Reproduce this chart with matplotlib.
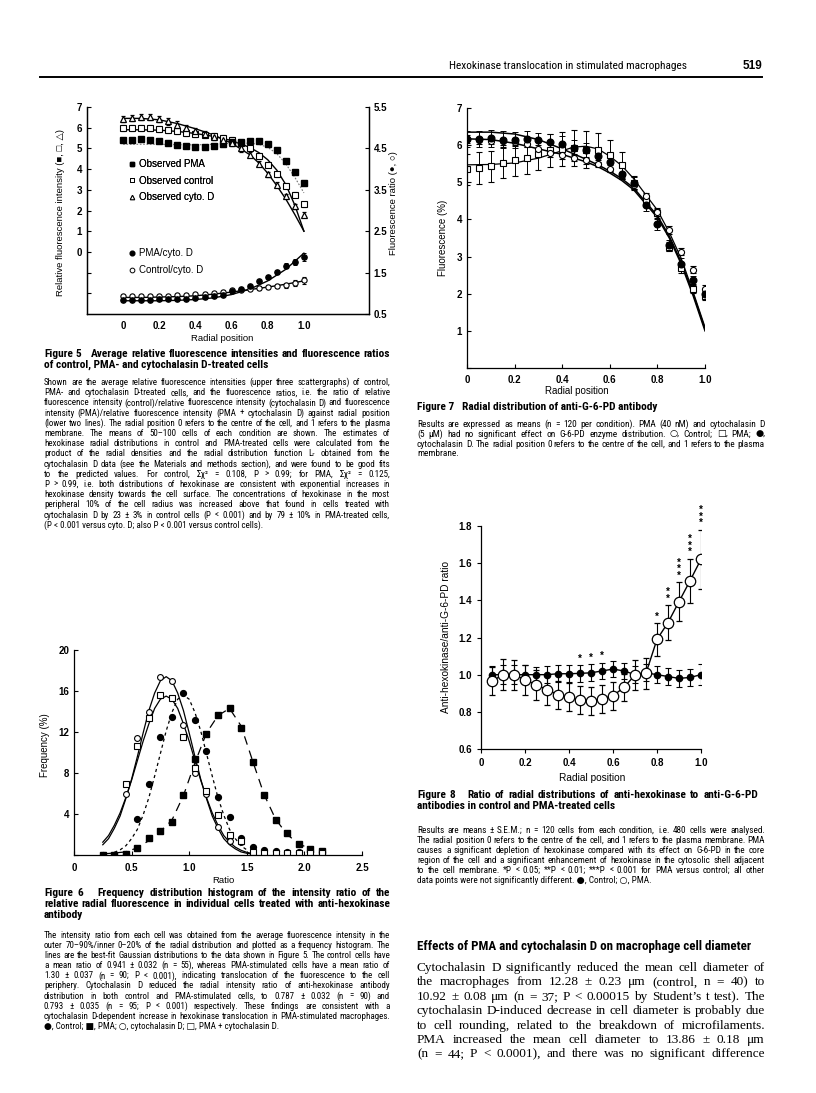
import matplotlib
matplotlib.use('Agg')
import matplotlib.pyplot as plt
from matplotlib.font_manager import FontProperties, fontManager
from matplotlib.lines import Line2D

# ---------------- data ----------------
# Figure 5 (radial position vs relative fluorescence / ratio)
r5 = [0, 0.05, 0.1, 0.15, 0.2, 0.25, 0.3, 0.35, 0.4, 0.45, 0.5,
      0.55, 0.6, 0.65, 0.7, 0.75, 0.8, 0.85, 0.9, 0.95, 1.0]
pma5 = [5.42, 5.42, 5.45, 5.40, 5.35, 5.25, 5.15, 5.10, 5.05, 5.05, 5.10,
        5.20, 5.30, 5.30, 5.35, 5.35, 5.20, 4.90, 4.40, 3.85, 3.35]
ctrl5 = [5.98, 6.00, 5.98, 6.00, 5.95, 5.90, 5.85, 5.75, 5.70, 5.65, 5.60,
         5.50, 5.40, 5.25, 5.00, 4.65, 4.20, 3.75, 3.20, 2.75, 2.30]
cyto5 = [6.42, 6.45, 6.50, 6.50, 6.42, 6.30, 6.15, 6.00, 5.85, 5.70, 5.55,
         5.40, 5.25, 5.00, 4.70, 4.25, 3.75, 3.25, 2.70, 2.20, 1.80]
err5 = [0.15, 0.15, 0.15, 0.15, 0.15, 0.15, 0.15, 0.15, 0.15, 0.15, 0.15,
        0.15, 0.15, 0.15, 0.13, 0.12, 0.12, 0.12, 0.12, 0.12, 0.12]
fitx5 = [0, 0.1, 0.2, 0.3, 0.4, 0.5, 0.6, 0.7, 0.75, 0.8, 0.85, 0.9, 0.95, 1.0]
cyto_fit5 = [6.45, 6.45, 6.38, 6.20, 5.95, 5.65, 5.25, 4.70, 4.30, 3.80, 3.20, 2.55, 1.80, 1.00]
ctrl_fit5 = [5.90, 5.90, 5.88, 5.82, 5.72, 5.58, 5.38, 5.05, 4.80, 4.45, 3.95, 3.25, 2.25, 1.00]
pma_fit5 = [5.20, 5.20, 5.20, 5.18, 5.17, 5.20, 5.25, 5.25, 5.20, 5.05, 4.75, 4.25, 3.60, 2.85]
pma_cyto5 = [0.85, 0.85, 0.85, 0.85, 0.86, 0.86, 0.87, 0.87, 0.89, 0.90, 0.94,
             0.97, 1.05, 1.10, 1.18, 1.29, 1.40, 1.52, 1.66, 1.76, 1.88]
ctrl_cyto5 = [0.93, 0.93, 0.93, 0.93, 0.94, 0.94, 0.95, 0.96, 0.98, 0.99, 1.01,
              1.04, 1.07, 1.09, 1.11, 1.13, 1.15, 1.17, 1.19, 1.24, 1.31]
ratio_err5 = [0.03] * 15 + [0.04, 0.04, 0.05, 0.06, 0.07, 0.09]
ratio_fitx = [0, 0.1, 0.2, 0.3, 0.4, 0.5, 0.6, 0.7, 0.8, 0.9, 1.0]
pma_cyto_fit = [0.82, 0.82, 0.82, 0.83, 0.85, 0.89, 0.97, 1.10, 1.30, 1.58, 1.97]
ctrl_cyto_fit = [0.90, 0.90, 0.91, 0.92, 0.94, 0.98, 1.03, 1.09, 1.15, 1.22, 1.30]

# Figure 6 (frequency histogram of intensity ratio)
bins6 = [0.25, 0.35, 0.45, 0.55, 0.65, 0.75, 0.85, 0.95, 1.05, 1.15,
         1.25, 1.35, 1.45, 1.55, 1.65, 1.75, 1.85, 1.95, 2.05, 2.15]
ctrl6 = [0, 0, 0.1, 3.5, 6.9, 11.5, 13.5, 15.8, 13.2, 10.1,
         5.7, 3.7, 1.7, 0.8, 0.5, 0.4, 0.3, 0.3, 0.3, 0.3]
pma6 = [0, 0, 0.1, 0.65, 1.7, 2.3, 3.2, 5.9, 9.4, 11.8,
        13.7, 14.3, 12.4, 9.1, 5.9, 3.4, 2.1, 1.1, 0.6, 0.4]
cyto6 = [None, None, 6.0, 11.4, 14.0, 17.4, 17.0, 12.7, 8.0, 6.0,
         2.7, 1.4, 1.3, 0, 0, 0, 0, 0, 0, 0]
pmacyto6 = [None, None, 6.9, 10.6, 13.4, 15.6, 15.3, 11.5, 8.5, 6.2,
            3.9, 2.0, 1.4, 0.3, 0.2, 0.2, 0.2, 0.2, 0.2, 0.2]
gx6 = [0.25, 0.3, 0.35, 0.4, 0.45, 0.5, 0.55, 0.6, 0.65, 0.7, 0.75, 0.8, 0.85,
       0.9, 0.95, 1.0, 1.05, 1.1, 1.15, 1.2, 1.25, 1.3, 1.35, 1.4, 1.45, 1.5, 1.55]
cyto_fit6 = [1.0, 1.6, 2.6, 3.8, 5.5, 7.4, 9.6, 11.9, 14.1, 15.8, 17.0, 17.4, 17.0,
             15.8, 14.1, 11.9, 9.6, 7.4, 5.5, 3.8, 2.6, 1.6, 1.0, 0.6, 0.3, 0.17, 0.09]
pmacyto_fit6 = [1.25, 1.9, 2.9, 4.1, 5.6, 7.3, 9.2, 11.1, 12.8, 14.3, 15.2, 15.5, 15.2,
                14.3, 12.8, 11.1, 9.2, 7.3, 5.6, 4.1, 2.9, 1.9, 1.25, 0.77, 0.46, 0.26, 0.14]
cx6 = [0.35, 0.4, 0.45, 0.5, 0.55, 0.6, 0.65, 0.7, 0.75, 0.8, 0.85, 0.9, 0.95,
       1.0, 1.05, 1.1, 1.15, 1.2, 1.25, 1.3, 1.35, 1.4, 1.45, 1.5]
ctrl_fit6 = [0.26, 0.5, 0.9, 1.6, 2.5, 3.9, 5.6, 7.7, 9.9, 12.1, 13.9, 15.2, 15.6,
             15.2, 13.9, 12.1, 9.9, 7.7, 5.6, 3.9, 2.5, 1.6, 0.9, 0.5]
px6 = [0.25, 0.35, 0.45, 0.55, 0.65, 0.75, 0.85, 0.95, 1.05, 1.15, 1.25,
       1.35, 1.45, 1.55, 1.65, 1.75, 1.85, 1.95, 2.05]
pma_fit6 = [0.1, 0.2, 0.3, 0.7, 1.4, 2.3, 3.4, 5.8, 9.0, 11.9, 13.6,
            14.3, 12.6, 9.2, 5.9, 3.5, 2.0, 1.1, 0.6]

# Figure 7 (anti-G-6-PD radial distribution)
r7 = r5
ctrl7 = [6.17, 6.13, 6.12, 6.10, 6.08, 6.04, 5.90, 5.79, 5.74, 5.66, 5.59,
         5.50, 5.37, 5.19, 4.92, 4.62, 4.20, 3.71, 3.13, 2.65, 2.14]
pma7 = [5.35, 5.39, 5.43, 5.53, 5.59, 5.65, 5.75, 5.86, 5.90, 5.92, 5.88,
        5.88, 5.73, 5.47, 4.98, 4.52, 4.16, 3.26, 2.68, 2.13, 1.95]
cyto7 = [6.17, 6.17, 6.18, 6.15, 6.13, 6.16, 6.13, 6.09, 6.04, 5.93, 5.86,
         5.70, 5.54, 5.23, 4.98, 4.38, 3.87, 3.30, 2.81, 2.36, 2.00]
ctrl7_err = [0.1] * 21
pma7_err = [0.42, 0.43, 0.42, 0.42, 0.42, 0.42, 0.42, 0.45, 0.45, 0.48, 0.5,
            0.45, 0.42, 0.35, 0.2, 0.13, 0.12, 0.12, 0.12, 0.12, 0.12]
cyto7_err = [0.22, 0.22, 0.22, 0.22, 0.22, 0.22, 0.2, 0.2, 0.2, 0.2, 0.2,
             0.15, 0.15, 0.15, 0.15, 0.15, 0.15, 0.15, 0.15, 0.12, 0.15]
fitx7 = [0, 0.1, 0.2, 0.3, 0.4, 0.45, 0.5, 0.55, 0.6, 0.65, 0.7, 0.8, 0.85, 0.9, 0.95, 1.0]
cyto_fit7 = [6.35, 6.35, 6.30, 6.15, 5.90, 5.76, 5.62, 5.47, 5.30, 5.10, 4.85, 4.10, 3.55, 2.85, 2.00, 1.05]
ctrl_fit7 = [6.17, 6.15, 6.05, 5.90, 5.75, 5.65, 5.55, 5.42, 5.25, 5.05, 4.80, 4.05, 3.50, 2.80, 1.95, 1.00]
pma_fit7 = [5.47, 5.48, 5.52, 5.65, 5.85, 5.95, 5.97, 5.90, 5.70, 5.45, 5.10, 4.25, 3.65, 2.95, 2.05, 1.10]

# Figure 8 (ratio anti-hexokinase / anti-G-6-PD)
r8 = [0.05, 0.1, 0.15, 0.2, 0.25, 0.3, 0.35, 0.4, 0.45, 0.5,
      0.55, 0.6, 0.65, 0.7, 0.75, 0.8, 0.85, 0.9, 0.95, 1.0]
ctrl8 = [1.0, 1.0, 1.0, 1.0, 1.0, 1.0, 1.005, 1.005, 1.007, 1.01,
         1.02, 1.03, 1.02, 1.0, 1.01, 1.0, 0.99, 0.98, 0.985, 1.0]
ctrl8_err = [0.045, 0.05, 0.05, 0.05, 0.04, 0.045, 0.045, 0.045, 0.045, 0.045,
             0.045, 0.045, 0.045, 0.045, 0.045, 0.045, 0.045, 0.045, 0.045, 0.055]
pma8 = [0.965, 1.0, 1.0, 0.973, 0.946, 0.919, 0.892, 0.878, 0.865, 0.86,
        0.869, 0.887, 0.931, 0.999, 1.008, 1.19, 1.28, 1.393, 1.505, 1.621]
pma8_err = [0.075, 0.085, 0.08, 0.08, 0.08, 0.08, 0.075, 0.075, 0.075, 0.075,
            0.075, 0.075, 0.075, 0.08, 0.083, 0.088, 0.095, 0.105, 0.12, 0.16]
sig8 = [0, 0, 0, 0, 0, 0, 0, 0, 1, 1, 1, 0, 0, 0, 0, 1, 2, 3, 3, 3]

# ---------------- page setup ----------------
W, H = 816, 1093
fig = plt.figure(figsize=(W / 100, H / 100), dpi=100)
fig.patch.set_facecolor('white')

names = {f.name for f in fontManager.ttflist}
NARROW = next((n for n in ['Liberation Sans Narrow', 'Roboto Condensed', 'Open Sans Condensed']
               if n in names), 'Liberation Sans')
SANS = ['Liberation Sans', 'DejaVu Sans']
CAP = [NARROW, 'DejaVu Sans']
SERIF = ['Liberation Serif', 'DejaVu Serif']
plt.rcParams['font.family'] = SANS
plt.rcParams['axes.linewidth'] = 0.9

renderer = fig.canvas.get_renderer()


def fx(x):
    return x / W


def fy(y):
    return 1 - y / H


def axes_px(l, t, r, b):
    ax = fig.add_axes([l / W, 1 - b / H, (r - l) / W, (b - t) / H])
    ax.px = (l, t, r, b)
    return ax


def ylabel_at(ax, text, x, y, size):
    l, t, r, b = ax.px
    ax.set_ylabel(text, fontsize=size)
    ax.yaxis.set_label_coords((x - l) / (r - l), (b - y) / (b - t))


def xlabel_at(ax, text, x, y, size):
    l, t, r, b = ax.px
    ax.set_xlabel(text, fontsize=size)
    ax.xaxis.set_label_coords((x - l) / (r - l), (b - y) / (b - t))


def tw(s, prop):
    w, h, d = renderer.get_text_width_height_descent(s, prop, ismath=False)
    return w


def block(x, y, lines, width, lh, family, weight='normal', size=None, last=False):
    """Justified text block; y is the baseline of the first line (px)."""
    probe = lines if (last or len(lines) == 1) else lines[:-1]
    if size is None:
        p0 = FontProperties(family=family, weight=weight, size=10)
        size = 10 * width / max(tw(s, p0) for s in probe) * 0.99
    prop = FontProperties(family=family, weight=weight, size=size)
    for i, line in enumerate(lines):
        base = fy(y + i * lh)
        words = line.split(' ')
        if (i == len(lines) - 1 and not last) or len(words) == 1:
            fig.text(fx(x), base, line, fontproperties=prop, va='baseline')
            continue
        ws = [tw(w, prop) if w else 0 for w in words]
        gap = (width - sum(ws)) / (len(words) - 1)
        cx = x
        for w, wd in zip(words, ws):
            if w:
                fig.text(fx(cx), base, w, fontproperties=prop, va='baseline')
            cx += wd + gap
    return size


# ---------------- running head ----------------
block(449, 69, ['Hexokinase translocation in stimulated macrophages'], 241, 10, CAP)
fig.text(fx(743), fy(69), '519', fontfamily=SANS, fontweight='bold', fontsize=8.5, va='baseline')
fig.add_artist(Line2D([fx(40), fx(762)], [fy(77), fy(77)], color='black', lw=1.4,
                      transform=fig.transFigure))

# ---------------- Figure 5 ----------------
ax5 = axes_px(87, 107, 369, 314)
ax5.set_xlim(-0.2, 1.36)
ax5.set_ylim(-3, 7)
kw5 = dict(ls='none', color='black', elinewidth=0.7, capsize=1.5, capthick=0.7, ms=3.8)
ax5.errorbar(r5, ctrl5, yerr=err5, marker='s', mfc='white', mec='black', mew=0.8, **kw5)
ax5.errorbar(r5, pma5, yerr=err5, marker='s', mfc='black', **kw5)
ax5.errorbar(r5, cyto5, yerr=err5, marker='^', mfc='white', mec='black', mew=0.9, **kw5)
ax5.plot(fitx5, cyto_fit5, color='black', lw=1.0)
ax5.plot(fitx5, ctrl_fit5, color='black', lw=1.0)
ax5.plot(fitx5, pma_fit5, color='0.45', lw=0.8, ls=(0, (1.5, 1.5)))
ax5.set_yticks([-2, -1, 0, 1, 2, 3, 4, 5, 6, 7])
ax5.set_yticklabels(['', '', '0', '1', '2', '3', '4', '5', '6', '7'])
ax5.set_xticks([0, 0.2, 0.4, 0.6, 0.8, 1.0])
ax5.set_xticklabels(['0', '0.2', '0.4', '0.6', '0.8', '1.0'])
ax5.tick_params(axis='y', direction='in', length=3, labelsize=7)
ax5.tick_params(axis='x', length=0, pad=5, labelsize=7)
for lab in ax5.get_xticklabels() + ax5.get_yticklabels():
    lab.set_fontweight('bold')
ax5.spines['top'].set_visible(False)
ylabel_at(ax5, 'Relative fluorescence intensity (■, □, △)', 65, 212, 6.8)
xlabel_at(ax5, 'Radial position', 222, 334, 6.8)

ax5r = ax5.twinx()
ax5r.set_ylim(0.5, 5.5)
kwr = dict(ls='none', color='black', elinewidth=0.7, capsize=1.5, capthick=0.7, ms=3.8)
ax5r.errorbar(r5, ctrl_cyto5, yerr=ratio_err5, marker='o', mfc='white', mec='black', mew=0.8, **kwr)
ax5r.errorbar(r5, pma_cyto5, yerr=ratio_err5, marker='o', mfc='black', **kwr)
ax5r.plot(ratio_fitx, pma_cyto_fit, color='black', lw=1.0)
ax5r.plot(ratio_fitx, ctrl_cyto_fit, color='black', lw=1.0)
ax5r.set_yticks([0.5, 1.5, 2.5, 3.5, 4.5, 5.5])
ax5r.set_yticklabels(['0.5', '1.5', '2.5', '3.5', '4.5', '5.5'])
ax5r.tick_params(axis='y', direction='in', length=3, labelsize=7)
for lab in ax5r.get_yticklabels():
    lab.set_fontweight('bold')
ax5r.spines['top'].set_visible(False)
l, t, r, b = ax5.px
ax5r.set_ylabel('Fluorescence ratio (●, ○)', fontsize=6.8)
ax5r.yaxis.set_label_coords((389 - l) / (r - l), (b - 203) / (b - t))

h1 = [Line2D([], [], ls='none', marker='s', ms=3.2, mfc='black', mec='black'),
      Line2D([], [], ls='none', marker='s', ms=3.2, mfc='white', mec='black', mew=0.7),
      Line2D([], [], ls='none', marker='^', ms=3.2, mfc='white', mec='black', mew=0.7)]
leg1 = ax5.legend(h1, ['Observed PMA', 'Observed control', 'Observed cyto. D'],
                  loc='upper left', bbox_to_anchor=(fx(129), fy(159)), bbox_transform=fig.transFigure,
                  frameon=False, fontsize=7, handlelength=0.6, handletextpad=0.45,
                  labelspacing=0.68, borderpad=0, borderaxespad=0)
ax5.add_artist(leg1)
h2 = [Line2D([], [], ls='none', marker='o', ms=3.4, mfc='black', mec='black'),
      Line2D([], [], ls='none', marker='o', ms=3.4, mfc='white', mec='black', mew=0.7)]
ax5r.legend(h2, ['PMA/cyto. D', 'Control/cyto. D'],
            loc='upper left', bbox_to_anchor=(fx(129), fy(248)), bbox_transform=fig.transFigure,
            frameon=False, fontsize=7, handlelength=0.6, handletextpad=0.45,
            labelspacing=0.72, borderpad=0, borderaxespad=0)

head5 = block(44, 357, ['Figure 5   Average relative fluorescence intensities and fluorescence ratios',
                        'of control, PMA- and cytochalasin D-treated cells'], 346, 10.6, CAP, 'bold')
block(44, 385, [
    'Shown are the average relative fluorescence intensities (upper three scattergraphs) of control,',
    'PMA- and cytochalasin D-treated cells, and the fluorescence ratios, i.e. the ratio of relative',
    'fluorescence intensity (control)/relative fluorescence intensity (cytochalasin D) and fluorescence',
    'intensity (PMA)/relative fluorescence intensity (PMA + cytochalasin D) against radial position',
    '(lower two lines). The radial position 0 refers to the centre of the cell, and 1 refers to the plasma',
    'membrane. The means of 50–100 cells of each condition are shown. The estimates of',
    'hexokinase radial distributions in control and PMA-treated cells were calculated from the',
    'product of the radial densities and the radial distribution function Lᵣ obtained from the',
    'cytochalasin D data (see the Materials and methods section), and were found to be good fits',
    'to the predicted values. For control, Σχ² = 0.108, P > 0.99; for PMA, Σχ² = 0.125,',
    'P > 0.99, i.e. both distributions of hexokinase are consistent with exponential increases in',
    'hexokinase density towards the cell surface. The concentrations of hexokinase in the most',
    'peripheral 10% of the cell radius was increased above that found in cells treated with',
    'cytochalasin D by 23 ± 3% in control cells (P < 0.001) and by 79 ± 10% in PMA-treated cells,',
    '(P < 0.001 versus cyto. D; also P < 0.001 versus control cells).'], 346, 10.2, CAP)

# ---------------- Figure 6 ----------------
ax6 = axes_px(74, 650, 362, 855)
ax6.set_xlim(0, 2.5)
ax6.set_ylim(0, 20)
ax6.plot(gx6, cyto_fit6, color='black', lw=0.9)
ax6.plot(gx6, pmacyto_fit6, color='black', lw=0.9)
ax6.plot(cx6, ctrl_fit6, color='black', lw=0.9, ls=(0, (2.5, 2.5)))
ax6.plot(px6, pma_fit6, color='black', lw=0.9, ls=(0, (7, 5)))
ax6.plot(bins6, ctrl6, ls='none', marker='o', ms=4.2, mfc='black', mec='black')
ax6.plot(bins6, pma6, ls='none', marker='s', ms=3.8, mfc='black', mec='black')
ax6.plot(bins6, cyto6, ls='none', marker='o', ms=4.2, mfc='white', mec='black', mew=0.8)
ax6.plot(bins6, pmacyto6, ls='none', marker='s', ms=3.8, mfc='white', mec='black', mew=0.8)
ax6.set_xticks([0, 0.5, 1.0, 1.5, 2.0, 2.5])
ax6.set_xticklabels(['0', '0.5', '1.0', '1.5', '2.0', '2.5'])
ax6.set_yticks([0, 4, 8, 12, 16, 20])
ax6.set_yticklabels(['', '4', '8', '12', '16', '20'])
ax6.tick_params(direction='in', length=3, labelsize=7)
ax6.tick_params(axis='x', pad=6)
for lab in ax6.get_xticklabels() + ax6.get_yticklabels():
    lab.set_fontweight('bold')
for s in ['top', 'right']:
    ax6.spines[s].set_visible(False)
ylabel_at(ax6, 'Frequency (%)', 50, 745, 7)
xlabel_at(ax6, 'Ratio', 223, 876, 6.8)

block(44, 896, ['Figure 6   Frequency distribution histogram of the intensity ratio of the',
                'relative radial fluorescence in individual cells treated with anti-hexokinase',
                'antibody'], 346, 10.8, CAP, 'bold', size=head5)
block(44, 938, [
    'The intensity ratio from each cell was obtained from the average fluorescence intensity in the',
    'outer 70–90%/inner 0–20% of the radial distribution and plotted as a frequency histogram. The',
    'lines are the best-fit Gaussian distributions to the data shown in Figure 5. The control cells have',
    'a mean ratio of 0.941 ± 0.032 (n = 55), whereas PMA-stimulated cells have a mean ratio of',
    '1.30 ± 0.037 (n = 90; P < 0.001), indicating translocation of the fluorescence to the cell',
    'periphery. Cytochalasin D reduced the radial intensity ratio of anti-hexokinase antibody',
    'distribution in both control and PMA-stimulated cells, to 0.787 ± 0.032 (n = 90) and',
    '0.793 ± 0.035 (n = 95; P < 0.001) respectively. These findings are consistent with a',
    'cytochalasin D-dependent increase in hexokinase translocation in PMA-stimulated macrophages.',
    '●, Control; ■, PMA; ○, cytochalasin D; □, PMA + cytochalasin D.'], 346, 10.1, CAP)

# ---------------- Figure 7 ----------------
ax7 = axes_px(467, 108, 705, 368)
ax7.set_xlim(0, 1.0)
ax7.set_ylim(0, 7)
kw7 = dict(ls='none', color='black', elinewidth=0.7, capsize=2, capthick=0.7)
ax7.plot(fitx7, cyto_fit7, color='black', lw=1.1)
ax7.plot(fitx7, ctrl_fit7, color='black', lw=1.1)
ax7.plot(fitx7, pma_fit7, color='black', lw=0.9)
ax7.errorbar(r7, pma7, yerr=pma7_err, marker='s', ms=4.2, mfc='white', mec='black', mew=0.8, **kw7)
ax7.errorbar(r7, ctrl7, yerr=ctrl7_err, marker='o', ms=4.4, mfc='white', mec='black', mew=0.8, **kw7)
ax7.errorbar(r7, cyto7, yerr=cyto7_err, marker='o', ms=4.8, mfc='black', mec='black', **kw7)
ax7.set_xticks([0, 0.2, 0.4, 0.6, 0.8, 1.0])
ax7.set_xticklabels(['0', '0.2', '0.4', '0.6', '0.8', '1.0'])
ax7.set_yticks([0, 1, 2, 3, 4, 5, 6, 7])
ax7.set_yticklabels(['', '1', '2', '3', '4', '5', '6', '7'])
ax7.tick_params(direction='in', length=3, labelsize=7)
ax7.tick_params(axis='x', pad=5)
for lab in ax7.get_xticklabels() + ax7.get_yticklabels():
    lab.set_fontweight('bold')
for s in ['top', 'right']:
    ax7.spines[s].set_visible(False)
ylabel_at(ax7, 'Fluorescence (%)', 448, 238, 7)
xlabel_at(ax7, 'Radial position', 577, 386, 7)

fig.text(fx(417), fy(410), 'Figure 7   Radial distribution of anti-G-6-PD antibody',
         fontproperties=FontProperties(family=CAP, weight='bold', size=head5), va='baseline')
block(417, 427, [
    'Results are expressed as means (n = 120 per condition). PMA (40 nM) and cytochalasin D',
    '(5 μM) had no significant effect on G-6-PD enzyme distribution. ○, Control; □, PMA; ●,',
    'cytochalasin D. The radial position 0 refers to the centre of the cell, and 1 refers to the plasma',
    'membrane.'], 348, 9.8, CAP)

# ---------------- Figure 8 ----------------
ax8 = axes_px(481, 526, 701, 749)
ax8.set_xlim(0, 1.0)
ax8.set_ylim(0.6, 1.8)
ax8.errorbar(r8, ctrl8, yerr=ctrl8_err, color='black', lw=1.0, elinewidth=0.8, capsize=2.5,
             capthick=0.8, marker='o', ms=4.5, mfc='black')
ax8.errorbar(r8, pma8, yerr=pma8_err, color='black', lw=1.0, elinewidth=0.8, capsize=2.5,
             capthick=0.8, marker='o', ms=7.5, mfc='white', mec='black', mew=0.9)
for xv, n, c, ce, p, pe in zip(r8, sig8, ctrl8, ctrl8_err, pma8, pma8_err):
    if n:
        top = max(c + ce, p + pe)
        ax8.annotate('\n'.join(['*'] * n), (xv, top), xytext=(0, 1), textcoords='offset points',
                     ha='center', va='bottom', fontsize=7, fontweight='bold',
                     linespacing=0.55, annotation_clip=False)
ax8.set_xticks([0, 0.2, 0.4, 0.6, 0.8, 1.0])
ax8.set_xticklabels(['0', '0.2', '0.4', '0.6', '0.8', '1.0'])
ax8.set_yticks([0.6, 0.8, 1.0, 1.2, 1.4, 1.6, 1.8])
ax8.set_yticklabels(['0.6', '0.8', '1.0', '1.2', '1.4', '1.6', '1.8'])
ax8.tick_params(direction='out', length=3, labelsize=7)
for lab in ax8.get_xticklabels() + ax8.get_yticklabels():
    lab.set_fontweight('bold')
for s in ['top', 'right']:
    ax8.spines[s].set_visible(False)
ylabel_at(ax8, 'Anti-hexokinase/anti-G-6-PD ratio', 451, 637, 7.3)
xlabel_at(ax8, 'Radial position', 592, 773, 7.3)

block(417, 798, ['Figure 8   Ratio of radial distributions of anti-hexokinase to anti-G-6-PD',
                 'antibodies in control and PMA-treated cells'], 341, 11, CAP, 'bold', size=head5)
block(417, 833, [
    'Results are means ± S.E.M.; n = 120 cells from each condition, i.e. 480 cells were analysed.',
    'The radial position 0 refers to the centre of the cell, and 1 refers to the plasma membrane. PMA',
    'causes a significant depletion of hexokinase compared with its effect on G-6-PD in the core',
    'region of the cell and a significant enhancement of hexokinase in the cytosolic shell adjacent',
    'to the cell membrane. *P < 0.05; **P < 0.01; ***P < 0.001 for PMA versus control; all other',
    'data points were not significantly different. ●, Control; ○, PMA.'], 348, 10.0, CAP)

# ---------------- body text ----------------
block(417, 950, ['Effects of PMA and cytochalasin D on macrophage cell diameter'], 338, 10, CAP, 'bold')
block(417, 971, [
    'Cytochalasin D significantly reduced the mean cell diameter of',
    'the macrophages from 12.28 ± 0.23 μm (control, n = 40) to',
    '10.92 ± 0.08 μm (n = 37; P < 0.00015 by Student’s t test). The',
    'cytochalasin D-induced decrease in cell diameter is probably due',
    'to cell rounding, related to the breakdown of microfilaments.',
    'PMA increased the mean cell diameter to 13.86 ± 0.18 μm',
    '(n = 44; P < 0.0001), and there was no significant difference'], 348, 14.4, SERIF, last=True)

fig.savefig('out.png', dpi=100, facecolor='white')
